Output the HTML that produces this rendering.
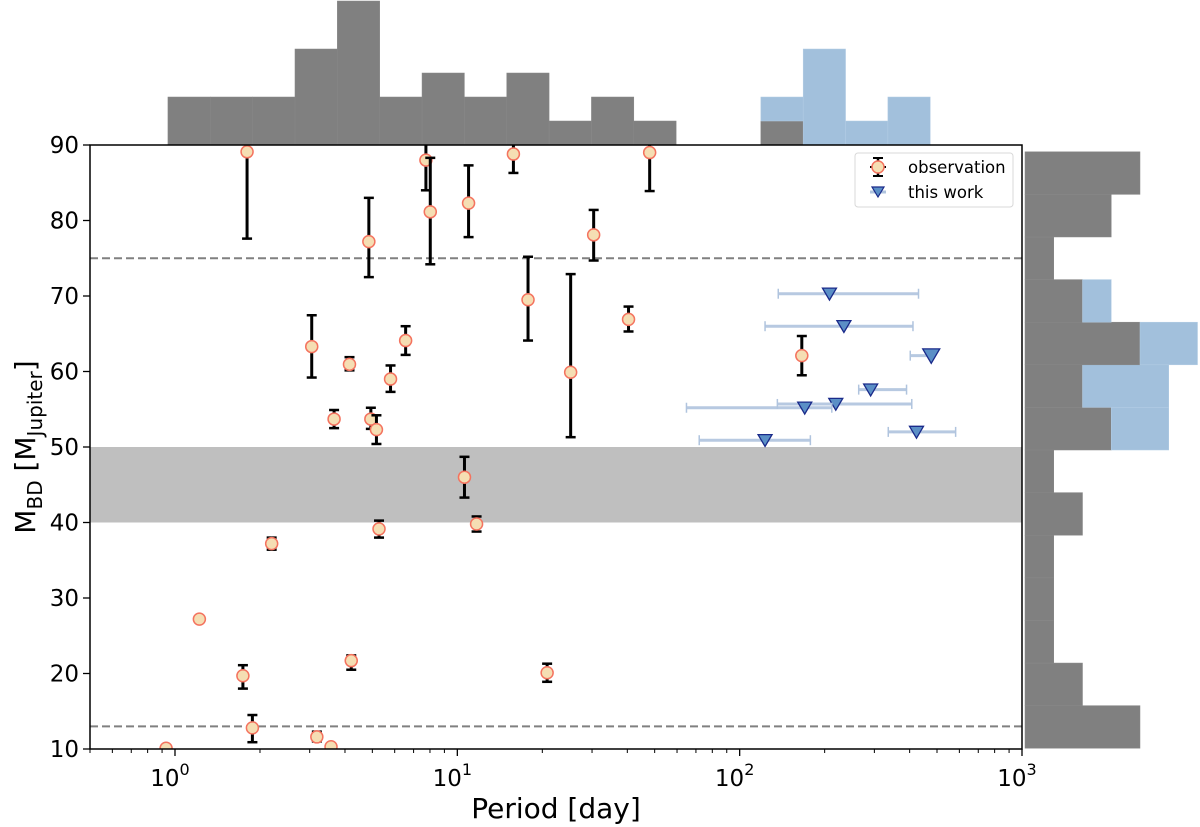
<!DOCTYPE html>
<html><head><meta charset="utf-8"><style>
body{margin:0;background:#fff;}
svg{display:block;font-family:"DejaVu Sans","Liberation Sans",sans-serif;}
</style></head><body>
<svg id="c" width="1200" height="827" viewBox="0 0 1200 827"></svg>
<script>
const obsPeriod=[1.80,2.20,3.05,3.66,4.15,4.86,4.94,5.17,5.28,5.80,6.56,7.74,8.02,10.6,10.96,11.7,15.8,17.8,0.93,1.22,1.74,1.88,3.18,3.57,4.21,20.8,25.2,30.4,40.4,48.0,166];
const obsMass=[89.1,37.2,63.3,53.7,60.95,77.2,53.7,52.3,39.15,59.0,64.1,88.0,81.15,46.0,82.3,39.8,88.8,69.5,10.1,27.2,19.7,12.8,11.6,10.3,21.7,20.1,59.9,78.1,66.9,89.0,62.1];
const obsHi=[92,38.0,67.45,54.9,61.9,83.0,55.2,54.2,40.25,60.8,66.0,92,88.3,48.7,87.3,40.8,92,75.2,10.1,27.4,21.1,14.5,12.3,10.6,22.4,21.3,72.9,81.4,68.6,92,64.7];
const obsLo=[77.6,36.4,59.2,52.5,60.15,72.5,52.4,50.4,38.0,57.3,62.2,84.0,74.2,43.3,77.8,38.8,86.3,64.1,10.1,27.0,18.0,10.9,11.0,10.1,20.5,18.9,51.3,74.7,65.3,83.9,59.5];
const twPeriod=[208,234,477,291,219,170,423,123];
const twMass=[70.3,66.0,62.1,57.6,55.7,55.2,52.0,50.9];
const twPLo=[137,123,402,264,136,64.8,336,71.9];
const twPHi=[430,411,477,390,407,212,582,178];
const topBinStart=-0.025, topBinWidth=0.15;
const topGray=[2,2,2,4,6,2,3,2,3,1,2,1,0,0,1,0,0,0];
const topBlue=[0,0,0,0,0,0,0,0,0,0,0,0,0,0,1,4,1,2];
const rightBinStart=10.1, rightBinWidth=5.643;
const rightGray=[4,2,1,1,1,2,1,3,2,4,2,1,3,4];
const rightBlue=[0,0,0,0,0,0,0,2,3,2,1,0,0,0];
const yTicks=[10,20,30,40,50,60,70,80,90];
const xTickExp=[0,1,2,3];

const NS='http://www.w3.org/2000/svg';
const svg=document.getElementById('c');
const L=90,R=1022,T=145,B=749;
const lmin=Math.log10(0.5),lmax=3;
const xs=p=>L+(Math.log10(p)-lmin)/(lmax-lmin)*(R-L);
const xl=l=>L+(l-lmin)/(lmax-lmin)*(R-L);
const ys=m=>B-(m-10)/80*(B-T);
function el(tag,a,parent){const e=document.createElementNS(NS,tag);for(const k in a)e.setAttribute(k,a[k]);(parent||svg).appendChild(e);return e;}

const gTop=el('g',{});


const cTop=24;
topGray.forEach((c,i)=>{
  const x0=xl(topBinStart+i*topBinWidth),x1=xl(topBinStart+(i+1)*topBinWidth);
  if(c>0){const r=el('rect',{x:x0,y:T-c*cTop,width:x1-x0,height:c*cTop,fill:'#808080',stroke:'#888','stroke-width':0.5},gTop);
    
    }
  const b=topBlue[i];
  if(b>0){const r=el('rect',{x:x0,y:T-(c+b)*cTop,width:x1-x0,height:b*cTop,fill:'#a2c0dc',stroke:'#b3cde4','stroke-width':0.5},gTop);
    
    }
});
const gR=el('g',{});


const cR=28.75,RX=1025;
rightGray.forEach((c,i)=>{
  const y1=ys(rightBinStart+i*rightBinWidth),y0=ys(rightBinStart+(i+1)*rightBinWidth);
  if(c>0){const r=el('rect',{x:RX,y:y0,width:c*cR,height:y1-y0,fill:'#808080',stroke:'#888','stroke-width':0.5},gR);
    
    }
  const b=rightBlue[i];
  if(b>0){const r=el('rect',{x:RX+c*cR,y:y0,width:b*cR,height:y1-y0,fill:'#a2c0dc',stroke:'#b3cde4','stroke-width':0.5},gR);
    
    }
});

const clip=el('clipPath',{id:'pc'});el('rect',{x:L,y:T,width:R-L,height:B-T},clip);
const band=el('rect',{x:L,y:ys(50),width:R-L,height:ys(40)-ys(50),fill:'#bfbfbf'});


[75,13].forEach(v=>{const d=el('line',{x1:L,x2:R,y1:ys(v),y2:ys(v),stroke:'#808080','stroke-width':2,'stroke-dasharray':'8,4'});
  
  });

const gObs=el('g',{'clip-path':'url(#pc)'});


obsPeriod.forEach((p,i)=>{
  const x=xs(p);
  if(obsHi[i]-obsLo[i]>0.5){
    el('line',{x1:x,x2:x,y1:ys(obsHi[i]),y2:ys(obsLo[i]),stroke:'#000','stroke-width':3},gObs);
    if(obsHi[i]<=90)el('line',{x1:x-5,x2:x+5,y1:ys(obsHi[i]),y2:ys(obsHi[i]),stroke:'#000','stroke-width':2.5},gObs);
    el('line',{x1:x-5,x2:x+5,y1:ys(obsLo[i]),y2:ys(obsLo[i]),stroke:'#000','stroke-width':2.5},gObs);
  }
  const c=el('circle',{cx:x,cy:ys(obsMass[i]),r:6,fill:'#f5deb3',stroke:'#f4735f','stroke-width':1.5},gObs);
  
  
});
const gTw=el('g',{'clip-path':'url(#pc)'});


twPeriod.forEach((p,i)=>{
  const y=ys(twMass[i]),x0=xs(twPLo[i]),x1=xs(twPHi[i]);
  el('line',{x1:x0,x2:x1,y1:y,y2:y,stroke:'#b0c4de','stroke-width':3,opacity:0.9},gTw);
  el('line',{x1:x0,x2:x0,y1:y-5,y2:y+5,stroke:'#b0c4de','stroke-width':1.5},gTw);
  el('line',{x1:x1,x2:x1,y1:y-5,y2:y+5,stroke:'#b0c4de','stroke-width':1.5},gTw);
  const x=xs(p),s=i==2?8.5:7;
  const t=el('path',{d:`M${x-s},${y-s*0.8}L${x+s},${y-s*0.8}L${x},${y+s*0.9}Z`,fill:'#5b8fc6',stroke:'#1a2a8a','stroke-width':1.3},gTw);
  
  
});
const frame=el('rect',{x:L,y:T,width:R-L,height:B-T,fill:'none',stroke:'#000','stroke-width':1.5});



yTicks.forEach(v=>{
  el('line',{x1:L-7,x2:L,y1:ys(v),y2:ys(v),stroke:'#000','stroke-width':1.3});
  const t=el('text',{x:L-11,y:ys(v)+8,'text-anchor':'end','font-size':23});
  t.textContent=v;
  
  
});
for(let e=-1;e<3;e++)for(let k=1;k<10;k++){const l=e+Math.log10(k);if(l<lmin||l>lmax)continue;
  el('line',{x1:xl(l),x2:xl(l),y1:B,y2:B+(k==1?7:4),stroke:'#000','stroke-width':k==1?1.3:1});}
el('line',{x1:xl(3),x2:xl(3),y1:B,y2:B+7,stroke:'#000','stroke-width':1.3});
xTickExp.forEach(e=>{
  const t=el('text',{x:xl(e)-5,y:B+37,'text-anchor':'middle','font-size':23});
  t.appendChild(document.createTextNode('10'));
  const s=el('tspan',{dy:-11,'font-size':16},t);s.textContent=e;
  
  
});
const xt=el('text',{x:556,y:818,'text-anchor':'middle','font-size':28});
xt.textContent='Period [day]';


const yt=el('text',{x:0,y:0,'text-anchor':'middle','font-size':28,transform:'translate(35,447) rotate(-90)'});
yt.appendChild(document.createTextNode('M'));
let s1=el('tspan',{dy:7,'font-size':20},yt);s1.textContent='BD';
let s2=el('tspan',{dy:-7},yt);s2.textContent=' [M';
let s3=el('tspan',{dy:7,'font-size':20},yt);s3.textContent='Jupiter';
let s4=el('tspan',{dy:-7},yt);s4.textContent=']';



const lg=el('g',{});


el('rect',{x:855,y:153,width:158,height:54,rx:3,fill:'#fff',stroke:'#d8d8d8','stroke-width':1},lg);
el('line',{x1:878,x2:878,y1:158,y2:176,stroke:'#000','stroke-width':2.5},lg);
el('line',{x1:873,x2:883,y1:158,y2:158,stroke:'#000','stroke-width':2},lg);
el('line',{x1:873,x2:883,y1:176,y2:176,stroke:'#000','stroke-width':2},lg);
el('line',{x1:870,x2:886,y1:167,y2:167,stroke:'#000','stroke-width':2},lg);
el('circle',{cx:878,cy:167,r:6,fill:'#f5deb3',stroke:'#f4735f','stroke-width':1.5},lg);
el('line',{x1:870,x2:886,y1:192,y2:192,stroke:'#b0c4de','stroke-width':3},lg);
el('path',{d:'M872,187L884,187L878,197Z',fill:'#5b8fc6',stroke:'#1a2a8a','stroke-width':1.2},lg);
const l1=el('text',{x:908,y:173,'font-size':16.5},lg);l1.textContent='observation';


const l2=el('text',{x:908,y:198,'font-size':16.5},lg);l2.textContent='this work';


</script>
</body></html>
